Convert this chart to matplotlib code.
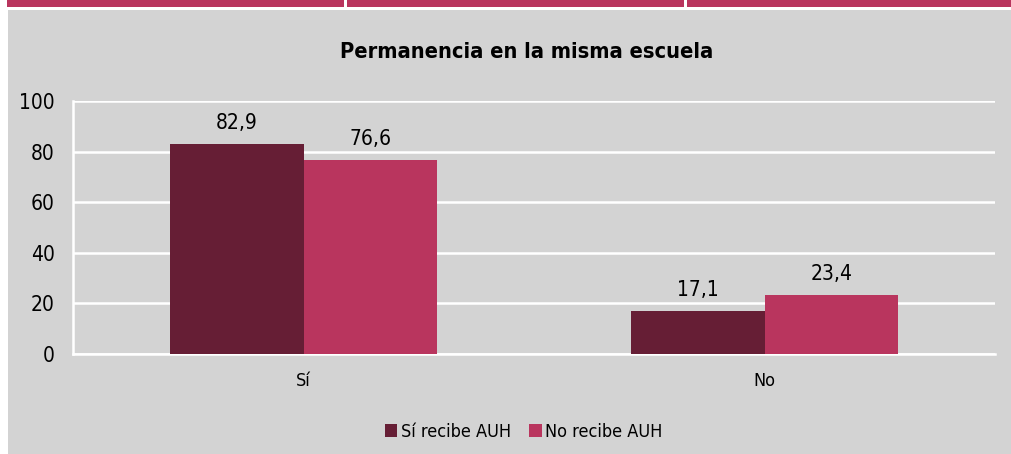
import matplotlib.pyplot as plt
from matplotlib.patches import Rectangle
from matplotlib import font_manager
import numpy as np

categorias = ['Sí', 'No']
si_recibe = [82.9, 17.1]
no_recibe = [76.6, 23.4]
etiquetas_si = ['82,9', '17,1']
etiquetas_no = ['76,6', '23,4']
series = ['Sí recibe AUH', 'No recibe AUH']
titulo = 'Permanencia en la misma escuela'

oscuro = '#661e35'
rosa = '#b9355e'
gris = '#d3d3d3'

nombres = {f.name for f in font_manager.fontManager.ttflist}
fuente = 'Liberation Sans Narrow' if 'Liberation Sans Narrow' in nombres else 'DejaVu Sans'
plt.rcParams['font.family'] = [fuente, 'DejaVu Sans']
plt.rcParams['font.stretch'] = 'condensed'

W, H = 1011, 454
fig = plt.figure(figsize=(W / 100, H / 100), dpi=100)
fig.patch.set_facecolor('white')

# panel gris y franja rosa superior
fig.patches.append(Rectangle((8 / W, 0), 1 - 8 / W, (H - 10) / H, transform=fig.transFigure,
                             facecolor=gris, edgecolor='none', zorder=0))
for x0, x1 in [(7, 344), (347, 684), (687, W)]:
    fig.patches.append(Rectangle((x0 / W, (H - 7) / H), (x1 - x0) / W, 7 / H, transform=fig.transFigure,
                                 facecolor=rosa, edgecolor='none', zorder=0))

ax = fig.add_axes([73 / W, (H - 354) / H, 922 / W, 253 / H])
ax.set_zorder(5)
ax.set_facecolor(gris)

x = np.arange(len(categorias))
ancho = 0.29
b1 = ax.bar(x - ancho / 2, si_recibe, ancho, color=oscuro, label=series[0], zorder=3)
b2 = ax.bar(x + ancho / 2, no_recibe, ancho, color=rosa, label=series[1], zorder=3)

for barras, textos in [(b1, etiquetas_si), (b2, etiquetas_no)]:
    for b, t in zip(barras, textos):
        ax.annotate(t, (b.get_x() + b.get_width() / 2, b.get_height()), xytext=(0, 8),
                    textcoords='offset points', ha='center', va='bottom', fontsize=15)

ax.set_xlim(-0.5, 1.5)
ax.set_ylim(0, 100)
ax.set_yticks(range(0, 101, 20))
ax.yaxis.grid(True, color='white', linewidth=1.8, zorder=1)
ax.set_axisbelow(True)
ax.set_xticks(x)
ax.set_xticklabels(categorias)
ax.tick_params(axis='both', length=0, labelsize=15)
ax.tick_params(axis='x', pad=13, labelsize=13)
ax.tick_params(axis='y', pad=13)
for s in ['top', 'right']:
    ax.spines[s].set_visible(False)
for s in ['left', 'bottom']:
    ax.spines[s].set_color('white')
    ax.spines[s].set_linewidth(1.8)

fig.text(0.521, (H - 52) / H, titulo, ha='center', va='center', fontsize=15.7, fontweight='bold')

leg = fig.legend(loc='center', bbox_to_anchor=(0.518, (H - 432) / H), ncol=2, frameon=False,
                 fontsize=13, handlelength=0.7, handleheight=0.7, handletextpad=0.2, columnspacing=1.0)
leg.set_zorder(6)

fig.savefig('out.png', dpi=100, facecolor=fig.get_facecolor())
